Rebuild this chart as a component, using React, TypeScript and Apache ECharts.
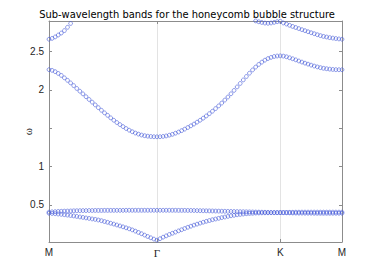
import React, { useEffect, useRef } from 'react';
import * as echarts from 'echarts';

// High-symmetry points along the k-path (sample index) and their labels
const symIndex = [0, 35, 75, 95];
const symLabels = ['M', 'Γ', 'K', 'M'];
const yTicks = [0.5, 1, 1.5, 2, 2.5];
const yTickLabels = [0.5, 1, 2, 2.5];

// Acoustic (lowest) band, samples 0..95
const bandAcoustic = [
  0.389, 0.386, 0.383, 0.379, 0.375, 0.370, 0.365, 0.360, 0.354, 0.348, 0.341, 0.335,
  0.328, 0.322, 0.315, 0.309, 0.301, 0.292, 0.281, 0.271, 0.259, 0.248, 0.236, 0.224,
  0.212, 0.199, 0.186, 0.172, 0.156, 0.139, 0.122, 0.104, 0.086, 0.069, 0.052, 0.038,
  0.057, 0.077, 0.094, 0.112, 0.128, 0.143, 0.159, 0.174, 0.190, 0.206, 0.220, 0.234,
  0.247, 0.260, 0.272, 0.284, 0.294, 0.305, 0.314, 0.323, 0.332, 0.340, 0.348, 0.356,
  0.362, 0.369, 0.374, 0.379, 0.383, 0.387, 0.389, 0.392, 0.393, 0.394, 0.395, 0.395,
  0.396, 0.396, 0.397, 0.397,
  0.396, 0.395, 0.394, 0.393, 0.392, 0.391, 0.391, 0.390, 0.390, 0.390, 0.389, 0.389,
  0.389, 0.389, 0.389, 0.389, 0.389, 0.389, 0.389, 0.389,
];

// Second sub-wavelength band (nearly flat), samples 0..95
const bandOptical = [
  0.404, 0.408, 0.410, 0.413, 0.415, 0.417, 0.418, 0.419, 0.421, 0.422, 0.423, 0.424,
  0.424, 0.425, 0.425, 0.426, 0.426, 0.426, 0.427, 0.427, 0.427, 0.427, 0.427, 0.427,
  0.427, 0.428, 0.428, 0.428, 0.428, 0.428, 0.428, 0.428, 0.428, 0.428, 0.428, 0.428,
  0.428, 0.428, 0.428, 0.428, 0.428, 0.428, 0.427, 0.427, 0.427, 0.426, 0.426, 0.425,
  0.424, 0.423, 0.422, 0.421, 0.420, 0.419, 0.418, 0.417, 0.416, 0.415, 0.414, 0.413,
  0.412, 0.411, 0.410, 0.409, 0.408, 0.407, 0.406, 0.405, 0.404, 0.403, 0.402, 0.401,
  0.400, 0.399, 0.398, 0.398,
  0.399, 0.400, 0.401, 0.402, 0.403, 0.403, 0.404, 0.404, 0.404, 0.404, 0.404, 0.404,
  0.404, 0.404, 0.404, 0.404, 0.404, 0.404, 0.404, 0.404,
];

// Third band, samples 0..95
const bandMiddle = [
  2.263, 2.254, 2.237, 2.214, 2.188, 2.156, 2.124, 2.090, 2.055, 2.018, 1.982, 1.947,
  1.910, 1.874, 1.839, 1.803, 1.767, 1.733, 1.699, 1.667, 1.634, 1.603, 1.573, 1.546,
  1.520, 1.495, 1.473, 1.453, 1.436, 1.422, 1.410, 1.401, 1.395, 1.391, 1.388, 1.387,
  1.388, 1.392, 1.398, 1.408, 1.419, 1.434, 1.449, 1.467, 1.487, 1.508, 1.530, 1.553,
  1.578, 1.603, 1.630, 1.659, 1.689, 1.721, 1.755, 1.790, 1.827, 1.866, 1.906, 1.948,
  1.992, 2.038, 2.083, 2.129, 2.174, 2.217, 2.259, 2.297, 2.331, 2.361, 2.387, 2.408,
  2.423, 2.435, 2.441, 2.443,
  2.440, 2.431, 2.418, 2.405, 2.391, 2.376, 2.362, 2.348, 2.335, 2.322, 2.310, 2.299,
  2.289, 2.281, 2.275, 2.270, 2.266, 2.263, 2.262, 2.262,
];

// Fourth band, visible only near the left M (from sample 0) and near K..M (from sample 66)
const upperLeftStart = 0;
const bandUpperLeft = [2.660, 2.671, 2.690, 2.715, 2.741, 2.773, 2.816, 2.866, 2.918];
const upperRightStart = 66;
const bandUpperRight = [
  2.915, 2.899, 2.888, 2.879, 2.871, 2.868, 2.872, 2.880, 2.889, 2.895,
  2.872, 2.858, 2.842, 2.827, 2.813, 2.799, 2.785, 2.772, 2.758, 2.745, 2.732, 2.719,
  2.707, 2.697, 2.689, 2.681, 2.675, 2.669, 2.664, 2.660,
];

const Y_MIN = 0.014;
const Y_MAX = 2.898;
const X_MIN = symIndex[0];
const X_MAX = symIndex[symIndex.length - 1];

export default function App() {
  const ref = useRef<HTMLDivElement>(null);
  useEffect(() => {
    document.body.style.margin = '0';
    const chart = echarts.init(ref.current!, null, { renderer: 'svg' });
    const toPts = (arr: number[], start: number) => arr.map((v, i) => [start + i, v]);
    const axisColor = '#8c8c8c';
    const textColor = '#262626';
    const fontFamily = 'Liberation Sans, Arial, sans-serif';
    const titleFont = "'Liberation Sans Narrow', 'DejaVu Sans Condensed', 'Liberation Sans', sans-serif";
    const markerStyle = {
      color: 'rgba(0,0,0,0)',
      borderColor: '#4a5fd9',
      borderWidth: 0.8,
    };
    const mkSeries = (data: number[][]) => ({
      type: 'scatter',
      data,
      symbol: 'circle',
      symbolSize: 3.8,
      itemStyle: markerStyle,
      clip: true,
      silent: true,
    });
    chart.setOption({
      animation: false,
      title: {
        text: 'Sub-wavelength bands for the honeycomb bubble structure',
        left: 182,
        textAlign: 'center',
        top: 4,
        textStyle: { fontSize: 11, fontWeight: 'normal', color: '#000', fontFamily: titleFont },
      },
      grid: { left: 49, right: 36, top: 21, bottom: 31, containLabel: false },
      xAxis: [
        {
          type: 'value',
          min: X_MIN,
          max: X_MAX,
          position: 'bottom',
          axisLine: { show: true, onZero: false, lineStyle: { color: axisColor, width: 1 } },
          axisTick: { show: true, inside: true, length: 3, customValues: symIndex, lineStyle: { color: axisColor } },
          axisLabel: {
            customValues: symIndex,
            margin: 5,
            color: textColor,
            fontSize: 10,
            fontFamily,
            formatter: (v: number) => {
              const k = symIndex.indexOf(Math.round(v));
              const s = k >= 0 ? symLabels[k] : '';
              return s === 'Γ' ? '{g|Γ}' : s;
            },
            rich: { g: { fontFamily: 'Liberation Serif, serif', fontSize: 11, color: textColor } },
          },
          splitLine: { show: true, lineStyle: { color: '#e3e3e3', width: 1 } },
        },
        {
          type: 'value',
          min: X_MIN,
          max: X_MAX,
          position: 'top',
          axisLine: { show: true, onZero: false, lineStyle: { color: axisColor, width: 1 } },
          axisTick: { show: true, inside: true, length: 3, customValues: symIndex, lineStyle: { color: axisColor } },
          axisLabel: { show: false, customValues: symIndex },
          splitLine: { show: false },
        },
      ],
      yAxis: [
        {
          type: 'value',
          min: Y_MIN,
          max: Y_MAX,
          position: 'left',
          name: 'ω',
          nameLocation: 'middle',
          nameGap: 16,
          nameRotate: 90,
          nameMoveOverlap: false,
          nameTextStyle: { fontSize: 11, color: textColor, fontFamily: 'Liberation Serif, serif' },
          axisLine: { show: true, onZero: false, lineStyle: { color: axisColor, width: 1 } },
          axisTick: { show: true, inside: true, length: 3, customValues: yTicks, lineStyle: { color: axisColor } },
          axisLabel: {
            customValues: yTickLabels,
            margin: 5,
            color: textColor,
            fontSize: 10,
            fontFamily,
            formatter: (v: number) => String(v),
          },
          splitLine: { show: false },
        },
        {
          type: 'value',
          min: Y_MIN,
          max: Y_MAX,
          position: 'right',
          axisLine: { show: true, onZero: false, lineStyle: { color: axisColor, width: 1 } },
          axisTick: { show: true, inside: true, length: 3, customValues: yTicks, lineStyle: { color: axisColor } },
          axisLabel: { show: false, customValues: yTicks },
          splitLine: { show: false },
        },
      ],
      series: [
        mkSeries(toPts(bandAcoustic, 0)),
        mkSeries(toPts(bandOptical, 0)),
        mkSeries(toPts(bandMiddle, 0)),
        mkSeries(toPts(bandUpperLeft, upperLeftStart)),
        mkSeries(toPts(bandUpperRight, upperRightStart)),
      ],
    });
    return () => chart.dispose();
  }, []);
  return <div ref={ref} style={{ width: 378, height: 273 }} />;
}
